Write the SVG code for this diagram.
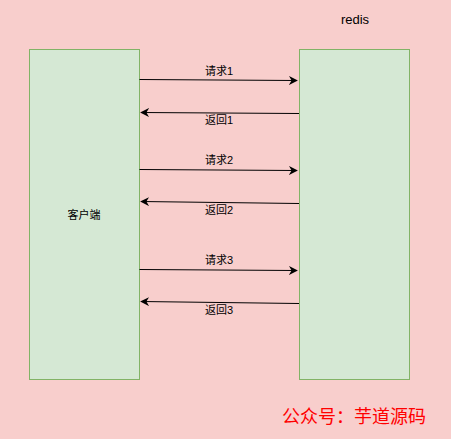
<svg xmlns="http://www.w3.org/2000/svg" width="451" height="439" viewBox="0 0 451 439">
<defs>
<marker id="ah" viewBox="0 0 10 10" refX="9" refY="5" markerWidth="9" markerHeight="9" markerUnits="userSpaceOnUse" orient="auto">
<path d="M0,0 L10,5 L0,10 L3,5 Z" fill="#000"/>
</marker>
</defs>
<style>
.box{fill:#d5e8d4;stroke:#82b366;stroke-width:1}
.t{font-family:"Liberation Sans","Noto Sans CJK SC",sans-serif;font-size:11px;fill:#000;text-anchor:middle}
.ln{stroke:#000;stroke-width:1;fill:none;marker-end:url(#ah)}
</style>
<rect x="0" y="0" width="451" height="439" fill="#f8cecc"/>
<g id="client">
<rect class="box" x="29.5" y="49.5" width="110" height="330"/>
<text class="t" x="84" y="219">客户端</text>
</g>
<g id="redis">
<rect class="box" x="299.5" y="49.5" width="110" height="330"/>
<text class="t" x="355" y="24" style="font-size:13px">redis</text>
</g>
<g id="connectors">
<path class="ln" d="M139.5,79.5 L297,80.5"/>
<text class="t" x="219" y="75">请求1</text>
<path class="ln" d="M299,113.5 L141,112.5"/>
<text class="t" x="219" y="124">返回1</text>
<path class="ln" d="M139.5,169.5 L297,170.5"/>
<text class="t" x="219" y="164">请求2</text>
<path class="ln" d="M299,203.5 L141,201.5"/>
<text class="t" x="219" y="214">返回2</text>
<path class="ln" d="M139.5,269.5 L297,270.5"/>
<text class="t" x="219" y="264">请求3</text>
<path class="ln" d="M299,303.5 L141,301.5"/>
<text class="t" x="219" y="314">返回3</text>
</g>
<text x="282" y="423" style="font-family:'Noto Sans CJK SC',sans-serif;font-size:18px;fill:#ff0000">公众号：芋道源码</text>
</svg>
